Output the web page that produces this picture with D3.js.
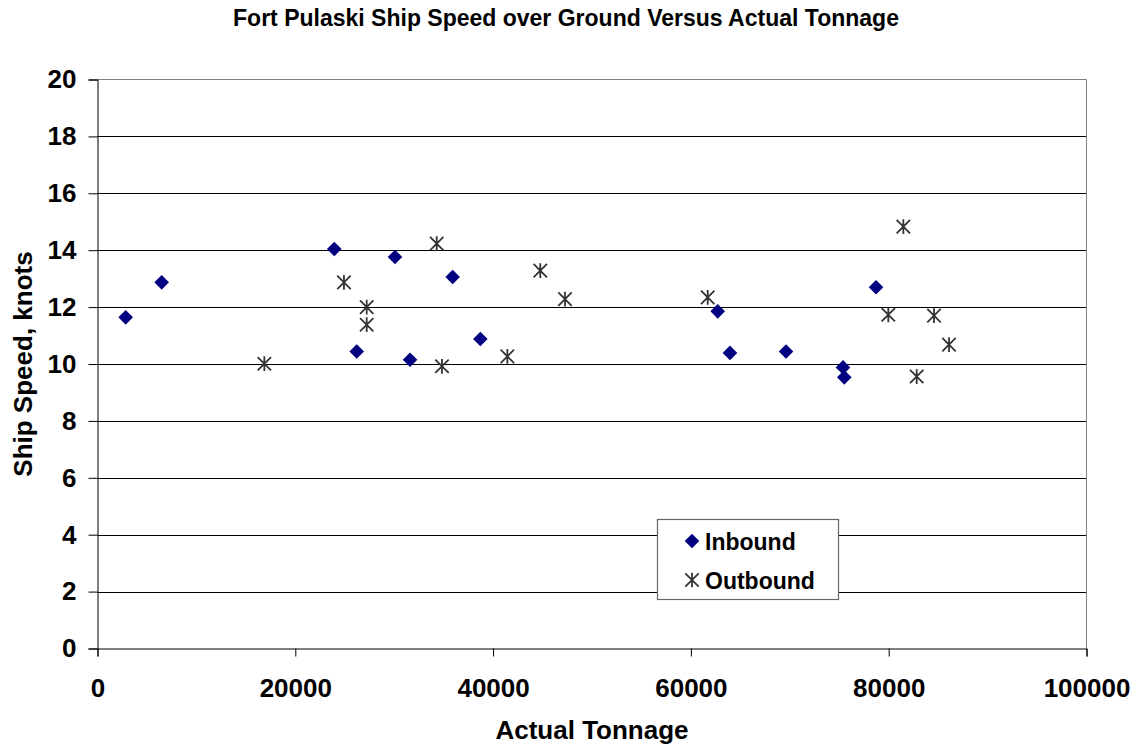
<!DOCTYPE html>
<html>
<head>
<meta charset="utf-8">
<script src="https://cdn.jsdelivr.net/npm/d3@7"></script>
<style>
  html, body { margin: 0; padding: 0; background: #fff; }
  svg { display: block; font-family: "Liberation Sans", Arial, sans-serif; font-weight: bold; }
</style>
</head>
<body>
<svg id="chart" width="1144" height="753"></svg>
<script>
// Inbound vessels: actual tonnage and speed over ground (knots)
const inboundTonnage = [2850, 6490, 23940, 26210, 30080, 31600, 35910, 38710, 62710, 63950, 69620, 75380, 75510, 78720];
const inboundSpeed   = [11.64, 12.87, 14.04, 10.44, 13.76, 10.15, 13.06, 10.88, 11.85, 10.39, 10.44, 9.88, 9.53, 12.70];

// Outbound vessels
const outboundTonnage = [16870, 24920, 27220, 27220, 34300, 34830, 41440, 44770, 47270, 61700, 79960, 81480, 82830, 84580, 86100];
const outboundSpeed   = [10.01, 12.87, 12.00, 11.38, 14.23, 9.92, 10.27, 13.28, 12.28, 12.34, 11.73, 14.83, 9.56, 11.70, 10.68];

const xTicks = [0, 20000, 40000, 60000, 80000, 100000];
const yTicks = [0, 2, 4, 6, 8, 10, 12, 14, 16, 18, 20];
const seriesNames = ["Inbound", "Outbound"];

const svg = d3.select("#chart");
const plotLeft = 97.5, plotRight = 1086.5, plotTop = 79.5, plotBottom = 648.5;

const x = d3.scaleLinear().domain([0, 100000]).range([plotLeft, plotRight]);
const y = d3.scaleLinear().domain([0, 20]).range([plotBottom, plotTop]);

// Horizontal gridlines
svg.append("g")
  .selectAll("line")
  .data(yTicks.filter(d => d > 0 && d < 20))
  .join("line")
  .attr("x1", plotLeft).attr("x2", plotRight)
  .attr("y1", d => Math.round(y(d)) + 0.5).attr("y2", d => Math.round(y(d)) + 0.5)
  .attr("stroke", "#000").attr("stroke-width", 1);

// Plot frame: grey top and right edges
svg.append("path")
  .attr("d", `M${plotLeft},${plotTop}H${plotRight}V${plotBottom}`)
  .attr("fill", "none").attr("stroke", "#808080").attr("stroke-width", 1);

// Y axis
const yAxis = svg.append("g")
  .attr("transform", `translate(${plotLeft},0)`)
  .call(d3.axisLeft(y).tickValues(yTicks).tickSize(9).tickPadding(12).tickFormat(d3.format("d")));
yAxis.selectAll("text").attr("font-size", 26).attr("font-family", "Liberation Sans, Arial, sans-serif")
  .attr("font-weight", "bold").attr("fill", "#000");
yAxis.select(".domain").attr("stroke", "#000");
yAxis.selectAll(".tick line").attr("stroke", "#000");

// X axis
const xAxis = svg.append("g")
  .attr("transform", `translate(0,${plotBottom})`)
  .call(d3.axisBottom(x).tickValues(xTicks).tickSize(8).tickPadding(22).tickFormat(d3.format("d")));
xAxis.selectAll("text").attr("font-size", 26).attr("font-family", "Liberation Sans, Arial, sans-serif")
  .attr("font-weight", "bold").attr("fill", "#000");
xAxis.select(".domain").attr("stroke", "#000");
xAxis.selectAll(".tick line").attr("stroke", "#000");

// Marker shapes
const diamond = s => `M0,${-s}L${s},0L0,${s}L${-s},0Z`;
const star = s => `M${-s},${-s}L${s},${s}M${-s},${s}L${s},${-s}M0,${-s * 1.1}V${s * 1.1}`;

function drawInbound(g) {
  g.append("path").attr("d", diamond(7.3)).attr("fill", "#000080");
}
function drawOutbound(g) {
  g.append("path").attr("d", star(6.7)).attr("fill", "none").attr("stroke", "#333").attr("stroke-width", 1.8);
}

const inbound = inboundTonnage.map((t, i) => ({ t, s: inboundSpeed[i] }));
const outbound = outboundTonnage.map((t, i) => ({ t, s: outboundSpeed[i] }));

svg.append("g").selectAll("g")
  .data(inbound).join("g")
  .attr("transform", d => `translate(${x(d.t)},${y(d.s)})`)
  .each(function () { drawInbound(d3.select(this)); });

svg.append("g").selectAll("g")
  .data(outbound).join("g")
  .attr("transform", d => `translate(${x(d.t)},${y(d.s)})`)
  .each(function () { drawOutbound(d3.select(this)); });

// Title
svg.append("text")
  .attr("x", 566).attr("y", 26)
  .attr("text-anchor", "middle").attr("font-size", 23)
  .text("Fort Pulaski Ship Speed over Ground Versus Actual Tonnage");

// Axis titles
svg.append("text")
  .attr("x", 592).attr("y", 739)
  .attr("text-anchor", "middle").attr("font-size", 26)
  .text("Actual Tonnage");

svg.append("text")
  .attr("transform", `translate(31.5,${(plotTop + plotBottom) / 2}) rotate(-90)`)
  .attr("text-anchor", "middle").attr("font-size", 26)
  .text("Ship Speed, knots");

// Legend
const legend = svg.append("g").attr("transform", "translate(657,519)");
legend.append("rect")
  .attr("x", 0.5).attr("y", 0.5).attr("width", 181).attr("height", 80)
  .attr("fill", "#fff").attr("stroke", "#666").attr("stroke-width", 1.2);

const rows = legend.selectAll("g.row")
  .data(seriesNames).join("g")
  .attr("class", "row")
  .attr("transform", (d, i) => `translate(35,${22 + i * 39})`);
rows.each(function (d, i) {
  const g = d3.select(this);
  if (i === 0) drawInbound(g); else drawOutbound(g);
  g.append("text").attr("x", 13).attr("y", 8.5).attr("font-size", 23).text(d);
});
</script>
</body>
</html>
